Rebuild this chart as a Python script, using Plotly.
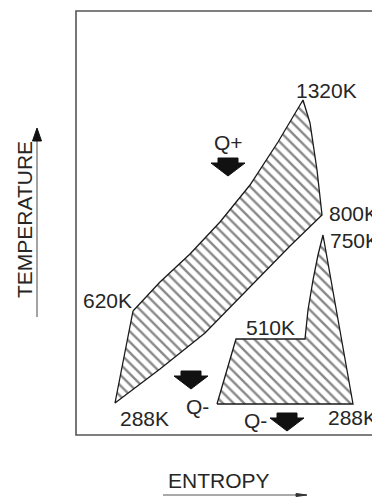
import plotly.graph_objects as go

# ---- data (diagram coordinates: x = entropy position, y = temperature position, screen-like) ----
# Gas-turbine cycle (large hatched area)
gt_s = [133, 160, 190, 220, 250, 278, 303, 310, 317, 322, 290, 247, 205, 160, 115, 133]
gt_T = [311, 282, 254, 222, 185, 142, 100, 123, 170, 215, 246, 290, 333, 369, 403, 311]

# Steam cycle (smaller hatched area)
st_s = [217, 236, 305, 308, 313, 318, 323, 353, 217]
st_T = [404, 339, 339, 310, 280, 255, 235, 404, 404]

# State labels
label_text = ["1320K", "800K", "750K", "620K", "510K", "288K", "288K"]
label_s = [294, 327, 328, 134, 244, 118, 326]
label_T = [90, 213, 240, 300, 327, 418, 417]
label_anchor = ["left", "left", "left", "right", "left", "left", "left"]

# Heat flow labels and arrows
q_text = ["Q+", "Q-", "Q-"]
q_s = [228, 197, 255]
q_T = [142, 406, 420]
arrow_s = [228, 191, 287]       # arrow centre
arrow_top = [158, 371, 413]     # arrow top

frame = dict(x0=76, y0=11, x1=385, y1=435)

fig = go.Figure()

hatch = dict(shape="\\", size=7.5, solidity=0.32, fgcolor="#111111", bgcolor="white")
for xs, ys in [(gt_s, gt_T), (st_s, st_T)]:
    fig.add_trace(go.Scatter(
        x=xs, y=ys, mode="lines", fill="toself",
        fillpattern=hatch, fillcolor="white",
        line=dict(color="#1a1a1a", width=1.3),
        hoverinfo="skip"))

# block arrows
for cx, top in zip(arrow_s, arrow_top):
    sw, sh, hw, hh = 10, 5, 17, 13
    xs = [cx - sw, cx + sw, cx + sw, cx + hw, cx, cx - hw, cx - sw, cx - sw]
    ys = [top, top, top + sh, top + sh, top + sh + hh, top + sh, top + sh, top]
    fig.add_trace(go.Scatter(x=xs, y=ys, mode="lines", fill="toself",
                             fillcolor="#111111", line=dict(color="#111111", width=1),
                             hoverinfo="skip"))

# temperature axis arrow
fig.add_trace(go.Scatter(x=[37, 37], y=[317, 138], mode="lines",
                         line=dict(color="#666666", width=1.2), hoverinfo="skip"))
fig.add_trace(go.Scatter(x=[32.5, 41.5, 37, 32.5], y=[141, 141, 128, 141], mode="lines",
                         fill="toself", fillcolor="#111111",
                         line=dict(color="#111111", width=1), hoverinfo="skip"))
# entropy axis arrow
fig.add_trace(go.Scatter(x=[163, 306], y=[495, 495], mode="lines",
                         line=dict(color="#555555", width=1.2), hoverinfo="skip"))
fig.add_trace(go.Scatter(x=[296, 307, 296, 296], y=[493.5, 495, 496.5, 493.5], mode="lines",
                         fill="toself", fillcolor="#333333",
                         line=dict(color="#333333", width=1), hoverinfo="skip"))

fig.add_shape(type="rect", xref="x", yref="y", line=dict(color="#555555", width=1.6),
              fillcolor="rgba(0,0,0,0)", layer="below", **frame)

font = dict(family="Liberation Sans, Arial, sans-serif", size=21, color="#262626")
for t, x, y, a in zip(label_text, label_s, label_T, label_anchor):
    fig.add_annotation(x=x, y=y, text=t, showarrow=False, xanchor=a, yanchor="middle",
                       font=font, xref="x", yref="y")
for t, x, y in zip(q_text, q_s, q_T):
    fig.add_annotation(x=x, y=y, text=t, showarrow=False, xanchor="center", yanchor="middle",
                       font=font, xref="x", yref="y")

fig.add_annotation(x=24, y=220, text="TEMPERATURE", textangle=-90, showarrow=False,
                   xanchor="center", yanchor="middle", font=font, xref="x", yref="y")
fig.add_annotation(x=219, y=480, text="ENTROPY", showarrow=False,
                   xanchor="center", yanchor="middle", font=font, xref="x", yref="y")

fig.update_layout(
    width=372, height=499, margin=dict(l=0, r=0, t=0, b=0),
    paper_bgcolor="white", plot_bgcolor="white", showlegend=False,
    xaxis=dict(range=[0, 372], visible=False, fixedrange=True),
    yaxis=dict(range=[499, 0], visible=False, fixedrange=True),
)

fig.write_html("out.html", config={"displayModeBar": False},
               post_script="document.body.style.margin='0';document.body.style.overflow='hidden';")
